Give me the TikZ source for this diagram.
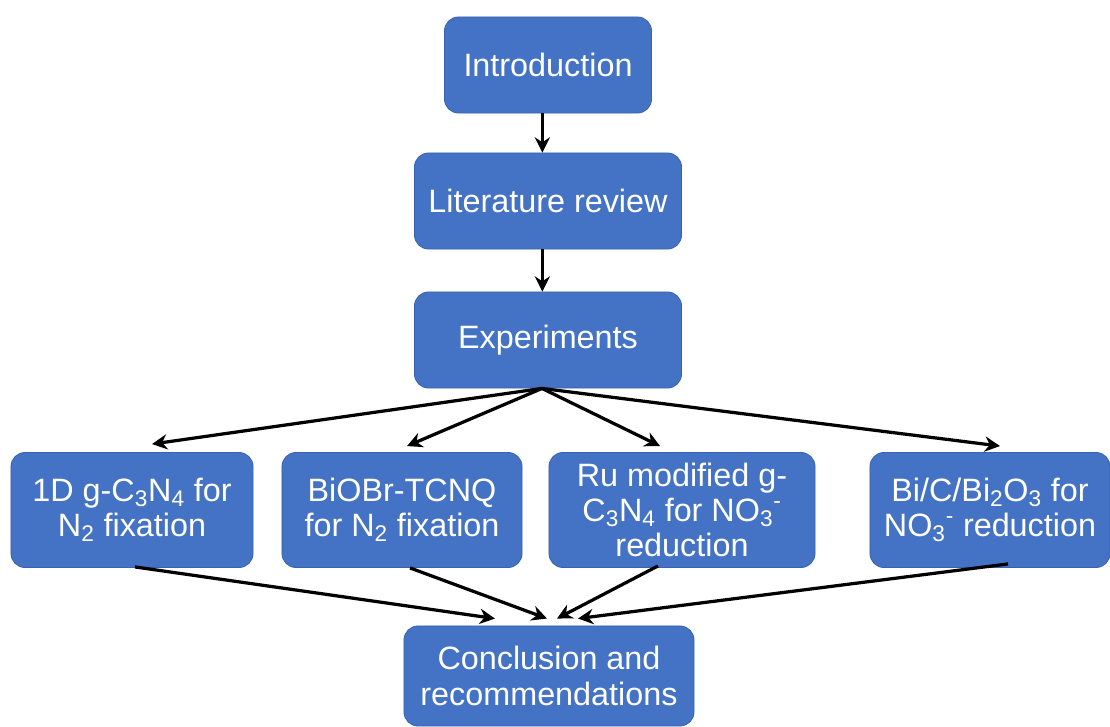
\documentclass[tikz,border=0pt]{standalone}
\usepackage{fontspec}
\setmainfont{Liberation Sans}
\usetikzlibrary{arrows.meta, calc, positioning}
\definecolor{boxblue}{HTML}{4472C4}
\definecolor{boxedge}{HTML}{3763B0}
\tikzset{
  stage/.style ={draw=boxedge, fill=boxblue, rounded corners=10pt, line width=0.6pt, text=white,
                 align=center, inner sep=0pt, font=\fontsize{23}{25}\selectfont},
  toprow/.style={stage, minimum width=6.675cm, minimum height=2.4cm},          % central column
  subrow/.style={stage, minimum height=2.875cm},                               % the four studies
  flow/.style  ={-{Stealth[length=3.8mm, width=3.8mm]}, line width=2.3pt},    % box -> next box
}
\begin{document}
\begin{tikzpicture}[x=0.025cm, y=-0.025cm]
  \useasboundingbox (0,0) rectangle (1110,727);
  % central column
  \node[toprow, minimum width=5.175cm] (intro)  at (548,65)  {Introduction};
  \node[toprow]                        (review) at (548,201) {Literature review};
  \node[toprow]                        (expt)   at (548,340) {Experiments};
  % four studies
  \node[subrow, minimum width=6.05cm] (gcn)   at (132,510) {1D g-C\textsubscript{3}N\textsubscript{4} for\\N\textsubscript{2} fixation};
  \node[subrow, minimum width=6.0cm]  (biobr) at (402,510) {BiOBr-TCNQ\\for N\textsubscript{2} fixation};
  \node[subrow, minimum width=6.65cm] (ru)    at (682,510) {Ru modified g-\\C\textsubscript{3}N\textsubscript{4} for NO\textsubscript{3}\textsuperscript{-}\\reduction};
  \node[subrow, minimum width=6.0cm]  (bicbi) at (990,510) {Bi/C/Bi\textsubscript{2}O\textsubscript{3} for\\NO\textsubscript{3}\textsuperscript{-} reduction};
  \node[stage, minimum width=7.25cm, minimum height=2.5cm] (concl) at (549,676) {Conclusion and\\recommendations};

  \draw[flow] ([xshift=-4]intro.south) -- ([xshift=-4]review.north);
  \draw[flow] ([xshift=-4]review.south) -- ([xshift=-4]expt.north);
  \coordinate (fan) at ([shift={(-6,0)}]expt.south);
  \draw[flow] (fan) -- ([shift={(20,-8)}]gcn.north);
  \draw[flow] (fan) -- ([shift={(5,-6)}]biobr.north);
  \draw[flow] (fan) -- ([shift={(-22,-6)}]ru.north);
  \draw[flow] (fan) -- ([shift={(10,-6)}]bicbi.north);

  \draw[flow] ([shift={(3,-1)}]gcn.south)    -- ([shift={(-54,-7)}]concl.north);
  \draw[flow] ([shift={(8,0)}]biobr.south)   -- ([shift={(-2,-7)}]concl.north);
  \draw[flow] ([shift={(-24,-2)}]ru.south)   -- ([shift={(8,-7)}]concl.north);
  \draw[flow] ([shift={(18,-4)}]bicbi.south) -- ([shift={(29,-7)}]concl.north);
\end{tikzpicture}
\end{document}
